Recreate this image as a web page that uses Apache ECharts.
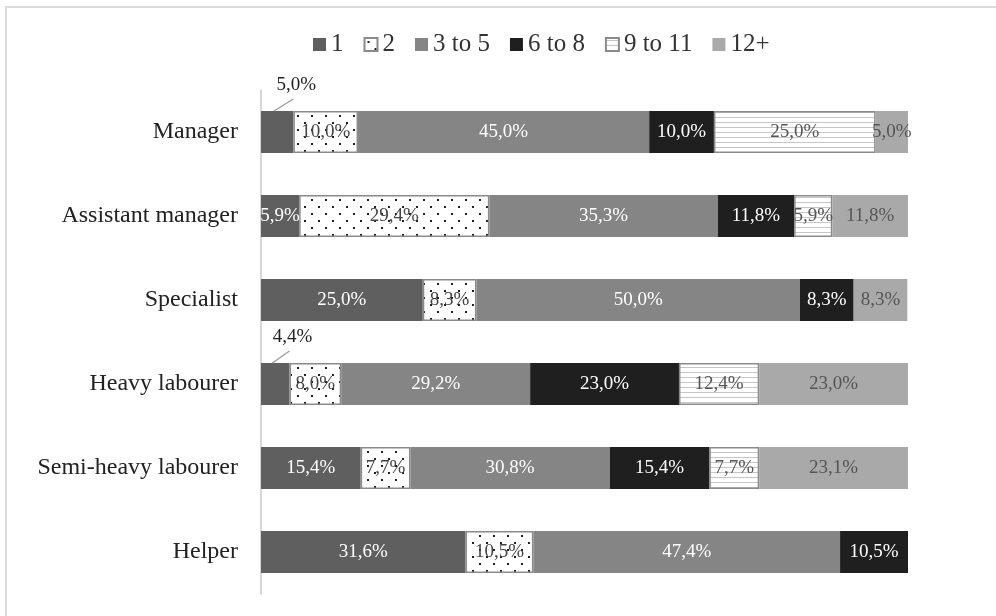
<!DOCTYPE html>
<html>
<head>
<meta charset="utf-8">
<script src="https://cdn.jsdelivr.net/npm/echarts@6/dist/echarts.min.js"></script>
<style>
  html, body { margin: 0; padding: 0; background: #fff; }
  #chart { width: 996px; height: 616px; }
</style>
</head>
<body>
<div id="chart"></div>
<script>
// Job positions (top to bottom)
const categories = ['Manager', 'Assistant manager', 'Specialist', 'Heavy labourer', 'Semi-heavy labourer', 'Helper'];
const seriesNames = ['1', '2', '3 to 5', '6 to 8', '9 to 11', '12+'];

// Share of each group per position, in percent
const s1 = [5.0, 5.9, 25.0, 4.4, 15.4, 31.6];
const s2 = [10.0, 29.4, 8.3, 8.0, 7.7, 10.5];
const s3 = [45.0, 35.3, 50.0, 29.2, 30.8, 47.4];
const s4 = [10.0, 11.8, 8.3, 23.0, 15.4, 10.5];
const s5 = [25.0, 5.9, 0, 12.4, 7.7, 0];
const s6 = [5.0, 11.8, 8.3, 23.0, 23.1, 0];
const values = [s1, s2, s3, s4, s5, s6];

// Positions whose first segment is labelled outside the bar
const outsideFirst = [0, 3];

const FONT = '"Liberation Serif", "Times New Roman", serif';
const BAR_WIDTH = 42;

// Dotted fill pattern
function dotPattern() {
  const c = document.createElement('canvas');
  c.width = 14; c.height = 14;
  const g = c.getContext('2d');
  g.fillStyle = '#fff'; g.fillRect(0, 0, 14, 14);
  g.fillStyle = '#222';
  g.fillRect(3, 3, 2, 2);
  g.fillRect(10, 10, 2, 2);
  return c;
}
// Horizontal line fill pattern
function linePattern() {
  const c = document.createElement('canvas');
  c.width = 8; c.height = 5;
  const g = c.getContext('2d');
  g.fillStyle = '#fff'; g.fillRect(0, 0, 8, 5);
  g.fillStyle = '#c6c6c6';
  g.fillRect(0, 2, 8, 1);
  return c;
}

const fills = [
  '#5f5f5f',
  { image: dotPattern(), repeat: 'repeat' },
  '#858585',
  '#1f1f1f',
  { image: linePattern(), repeat: 'repeat' },
  '#a9a9a9'
];
const borders = [null, '#8a8a8a', null, null, '#8a8a8a', null];
const labelColors = ['#fff', '#444', '#fff', '#fff', '#555', '#555'];

const fmt = v => v.toFixed(1).replace('.', ',') + '%';

const series = values.map((arr, si) => ({
  name: seriesNames[si],
  type: 'bar',
  stack: 'total',
  barWidth: BAR_WIDTH,
  itemStyle: {
    color: fills[si],
    borderColor: borders[si] || 'transparent',
    borderWidth: borders[si] ? 1.5 : 0
  },
  label: {
    show: true,
    position: 'inside',
    color: labelColors[si],
    fontFamily: FONT,
    fontSize: 19,
    formatter: p => fmt(p.value)
  },
  labelLayout: si === 0 ? function (p) {
    if (outsideFirst.indexOf(p.dataIndex) < 0) return {};
    const r = p.rect;
    return {
      x: r.x + r.width + 3,
      y: r.y - 26,
      align: 'center',
      verticalAlign: 'middle'
    };
  } : undefined,
  data: arr.map((v, i) => {
    if (v === 0) return '-';
    if (si === 0 && outsideFirst.indexOf(i) >= 0) {
      return { value: v, label: { color: '#222' } };
    }
    return v;
  })
}));

// Leader lines from the narrow first segments up to their labels
series.push({
  type: 'custom',
  name: 'leader',
  silent: true,
  z: 5,
  encode: { x: 0, y: 1 },
  data: outsideFirst.map(i => [s1[i], i]),
  renderItem: function (params, api) {
    const v = api.value(0);
    const cat = api.value(1);
    const start = api.coord([v * 0.4, cat]);
    const end = api.coord([v, cat]);
    const top = start[1] - BAR_WIDTH / 2;
    return {
      type: 'line',
      shape: { x1: start[0], y1: top, x2: end[0], y2: top - 12 },
      style: { stroke: '#9a9a9a', lineWidth: 1.3 }
    };
  }
});

const chart = echarts.init(document.getElementById('chart'), null, { renderer: 'canvas' });
chart.setOption({
  animation: false,
  backgroundColor: '#fff',
  textStyle: { fontFamily: FONT },
  graphic: [{
    type: 'rect',
    shape: { x: 6, y: 7, width: 1000, height: 620 },
    style: { fill: 'none', stroke: '#dcdcdc', lineWidth: 2 },
    silent: true,
    z: -1
  }],
  legend: {
    top: 27,
    left: 308,
    icon: 'rect',
    itemWidth: 13,
    itemHeight: 13,
    itemGap: 20,
    textStyle: { fontFamily: FONT, fontSize: 25, color: '#333' },
    data: seriesNames
  },
  grid: { left: 261, top: 90, width: 647, height: 504, containLabel: false },
  xAxis: {
    type: 'value',
    min: 0,
    max: 100,
    show: false
  },
  yAxis: {
    type: 'category',
    inverse: true,
    data: categories,
    axisTick: { show: false },
    axisLine: { show: true, lineStyle: { color: '#c8c8c8', width: 1.5 } },
    axisLabel: { fontFamily: FONT, fontSize: 24, color: '#222', margin: 23 }
  },
  series: series
});
</script>
</body>
</html>
